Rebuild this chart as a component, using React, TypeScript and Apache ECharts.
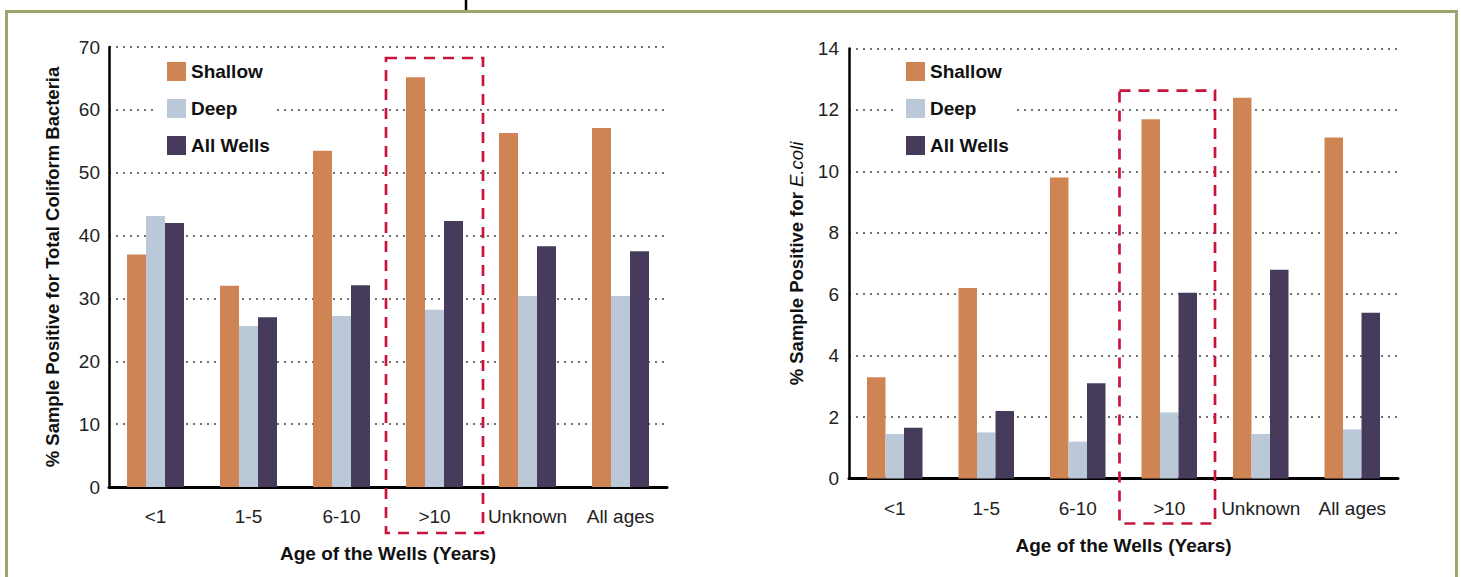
import React, { useEffect, useRef } from "react";
import * as echarts from "echarts";

const categories = ["<1", "1-5", "6-10", ">10", "Unknown", "All ages"];
const seriesNames = ["Shallow", "Deep", "All Wells"];
const coliformShallow = [37.0, 32.0, 53.5, 65.2, 56.3, 57.1];
const coliformDeep = [43.1, 25.6, 27.2, 28.2, 30.4, 30.4];
const coliformAll = [42.0, 27.0, 32.1, 42.3, 38.3, 37.5];
const ecoliShallow = [3.3, 6.2, 9.8, 11.7, 12.4, 11.1];
const ecoliDeep = [1.45, 1.5, 1.2, 2.15, 1.45, 1.6];
const ecoliAll = [1.65, 2.2, 3.1, 6.05, 6.8, 5.4];
const colors = ["#cf8553", "#bbc8d8", "#463b5a"];
const highlightCategory = ">10";

const FONT = "'Liberation Sans', Arial, Helvetica, sans-serif";

export default function App() {
  const ref = useRef<HTMLDivElement>(null);
  useEffect(() => {
    document.body.style.margin = "0";
    const chart = echarts.init(ref.current!, undefined, { renderer: "svg" });

    const xAxisCommon = {
      type: "category" as const,
      data: categories,
      axisLine: { lineStyle: { color: "#000", width: 3 } },
      axisTick: { show: false },
      axisLabel: { color: "#222", fontSize: 19, fontFamily: FONT, margin: 20, interval: 0 },
      name: "Age of the Wells (Years)",
      nameLocation: "middle" as const,
      nameTextStyle: { color: "#111", fontSize: 19, fontWeight: "bold", fontFamily: FONT },
    };
    const yAxisCommon = {
      type: "value" as const,
      min: 0,
      axisLine: { show: true, lineStyle: { color: "#000", width: 2.5 } },
      axisTick: { show: false },
      axisLabel: { color: "#222", fontSize: 19, fontFamily: FONT },
      splitLine: { lineStyle: { color: "#444", width: 1.6, type: [2, 5] as any } },
      nameLocation: "middle" as const,
      nameRotate: 90,
    };
    const legendCommon = {
      orient: "vertical" as const,
      data: seriesNames,
      itemWidth: 19,
      itemHeight: 19,
      itemGap: 18,
      icon: "rect",
      backgroundColor: "#fff",
      textStyle: { color: "#111", fontSize: 19, fontWeight: "bold", fontFamily: FONT },
    };
    const mk = (name: string, data: number[], idx: number, ci: number, bw: number) => ({
      type: "bar" as const,
      name,
      data,
      xAxisIndex: idx,
      yAxisIndex: idx,
      barWidth: bw,
      barGap: "0%",
      itemStyle: { color: colors[ci] },
    });

    chart.setOption({
      animation: false,
      backgroundColor: "#fff",
      color: colors,
      grid: [
        { left: 109, top: 47, width: 558, height: 440 },
        { left: 849, top: 48.5, width: 549, height: 430 },
      ],
      legend: [
        { ...legendCommon, left: 155, top: 55, padding: [7, 6, 7, 12] },
        { ...legendCommon, left: 895, top: 55, padding: [7, 6, 7, 11] },
      ],
      xAxis: [
        { ...xAxisCommon, gridIndex: 0, nameGap: 57 },
        { ...xAxisCommon, gridIndex: 1, nameGap: 57 },
      ],
      yAxis: [
        {
          ...yAxisCommon,
          gridIndex: 0,
          max: 70,
          interval: 10,
          axisLabel: { ...yAxisCommon.axisLabel, margin: 9 },
          name: "% Sample Positive for Total Coliform Bacteria",
          nameGap: 47,
          nameTextStyle: { color: "#111", fontSize: 18.5, fontWeight: "bold", fontFamily: FONT },
        },
        {
          ...yAxisCommon,
          gridIndex: 1,
          max: 14,
          interval: 2,
          axisLabel: { ...yAxisCommon.axisLabel, margin: 10 },
          name: "{b|% Sample Positive for }{i|E.coli}",
          nameGap: 43,
          nameTextStyle: {
            color: "#111",
            fontSize: 18.5,
            fontFamily: FONT,
            rich: {
              b: { fontSize: 18.5, fontWeight: "bold", fontFamily: FONT, color: "#111" },
              i: { fontSize: 18.5, fontStyle: "italic", fontWeight: "normal", fontFamily: FONT, color: "#111" },
            },
          },
        },
      ],
      series: [
        mk(seriesNames[0], coliformShallow, 0, 0, 19),
        mk(seriesNames[1], coliformDeep, 0, 1, 19),
        mk(seriesNames[2], coliformAll, 0, 2, 19),
        mk(seriesNames[0], ecoliShallow, 1, 0, 18.5),
        mk(seriesNames[1], ecoliDeep, 1, 1, 18.5),
        mk(seriesNames[2], ecoliAll, 1, 2, 18.5),
      ],
    });

    const boxFor = (gi: number, topVal: number, below: number, shift: number) => {
      const a = chart.convertToPixel({ gridIndex: gi }, [highlightCategory, topVal]) as number[];
      const b = chart.convertToPixel({ gridIndex: gi }, ["Unknown", 0]) as number[];
      const bw = b[0] - a[0];
      const pad = 2;
      return {
        type: "rect",
        shape: { x: a[0] - bw / 2 - pad + shift, y: a[1], width: bw + pad * 2, height: b[1] + below - a[1] },
        style: { fill: "none", stroke: "#c8143c", lineWidth: 2.7, lineDash: [11, 8] },
        z: 10,
      };
    };

    chart.setOption({
      graphic: [
        {
          type: "rect",
          shape: { x: 6.5, y: 11.5, width: 1450, height: 620 },
          style: { fill: "none", stroke: "#9ea66e", lineWidth: 3 },
          silent: true,
        },
        {
          type: "line",
          shape: { x1: 466, y1: 0, x2: 466, y2: 10 },
          style: { stroke: "#000", lineWidth: 2.5 },
        },
        boxFor(0, 68.25, 46, 0),
        boxFor(1, 12.63, 45, -2),
      ],
    });

    return () => chart.dispose();
  }, []);
  return <div ref={ref} style={{ width: 1461, height: 577 }} />;
}
